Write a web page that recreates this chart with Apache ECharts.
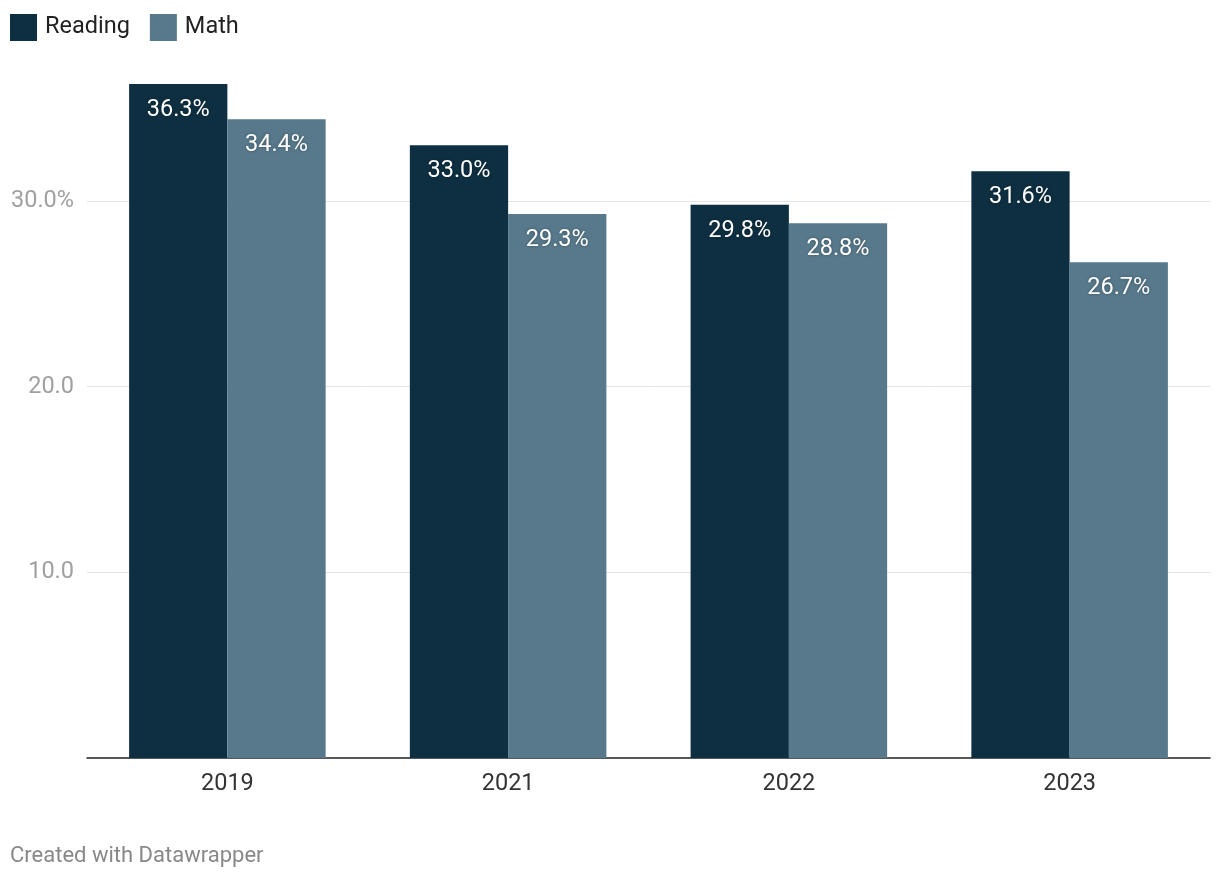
<!DOCTYPE html>
<html>
<head>
<meta charset="utf-8">
<script src="https://cdn.jsdelivr.net/npm/echarts@6/dist/echarts.min.js"></script>
<style>
html,body{margin:0;padding:0;background:#fff;}
#chart{width:1220px;height:880px;}
</style>
</head>
<body>
<div id="chart"></div>
<script>
const categories = ['2019', '2021', '2022', '2023'];
const reading = [36.3, 33.0, 29.8, 31.6];
const math = [34.4, 29.3, 28.8, 26.7];
const seriesNames = ['Reading', 'Math'];
const gridValues = [10, 20, 30];
const colors = ['#0e2f41', '#57798b'];

const chart = echarts.init(document.getElementById('chart'));
const labelCfg = {
  show: true,
  position: 'insideTop',
  distance: 14,
  color: '#fff',
  fontFamily: 'Roboto',
  fontSize: 23.5,
  textShadowColor: 'rgba(0,0,0,0.35)',
  textShadowBlur: 3,
  formatter: p => p.value.toFixed(1) + '%'
};
chart.setOption({
  animation: false,
  textStyle: {fontFamily: 'Roboto'},
  legend: {
    left: 10, top: 14, padding: 0,
    icon: 'rect', itemWidth: 27, itemHeight: 27, itemGap: 20,
    textStyle: {fontSize: 23.5, color: '#222', fontFamily: 'Roboto', padding: [3,0,0,3]},
    data: seriesNames
  },
  graphic: [{
    type: 'text', left: 10, top: 845,
    style: {text: 'Created with Datawrapper', fontSize: 22, fill: '#888', fontFamily: 'Roboto'}
  }],
  grid: {left: 87, right: 10, top: 84, bottom: 122, containLabel: false},
  xAxis: {
    type: 'category', data: categories,
    axisLine: {lineStyle: {color: '#222', width: 1.5}},
    axisTick: {show: false},
    axisLabel: {fontSize: 23.5, color: '#333', margin: 14, fontFamily: 'Roboto'}
  },
  yAxis: {
    type: 'value', min: 0, max: 36.3, interval: 10,
    axisLine: {show: false}, axisTick: {show: false},
    splitLine: {show: false},
    axisLabel: {
      fontSize: 23.5, color: '#a0a0a0', margin: 13, fontFamily: 'Roboto',
      showMaxLabel: false,
      formatter: v => v === 0 ? '' : (v === 30 ? '30.0%' : v.toFixed(1))
    }
  },
  series: [
    {name: seriesNames[0], type: 'bar', data: reading, barGap: '0%', barCategoryGap: '30%', z: 3,
     itemStyle: {color: colors[0]}, label: labelCfg,
     markLine: {
       silent: true, symbol: 'none', z: 1,
       label: {show: false},
       lineStyle: {color: '#e3e3e3', width: 1, type: 'solid'},
       data: gridValues.map(v => ({yAxis: v}))
     }},
    {name: seriesNames[1], type: 'bar', data: math, barGap: '0%', barCategoryGap: '30%', z: 3,
     itemStyle: {color: colors[1]}, label: labelCfg}
  ]
});
</script>
</body>
</html>
